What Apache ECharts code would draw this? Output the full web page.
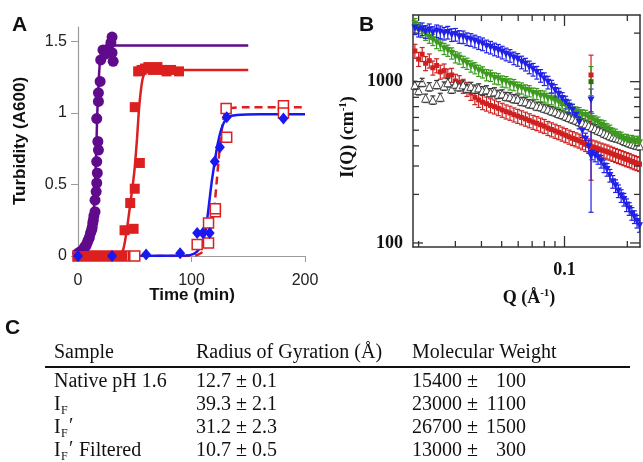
<!DOCTYPE html>
<html><head><meta charset="utf-8">
<script src="https://cdn.jsdelivr.net/npm/echarts@6/dist/echarts.min.js"></script>
<style>html,body{margin:0;padding:0;background:#fff}#c{width:643px;height:462px}</style>
</head><body><div id="c"></div>
<script>
// ---------- Panel A: turbidity (time in min, A600) ----------
const purplePoints = [[0,0.02],[1,0.01],[2,0.03],[3,0.02],[4,0.04],[5,0.05],[6,0.065],[7,0.07],[8,0.09],[9,0.11],[10,0.13],[11,0.16],[12,0.18],[12.5,0.2],[13,0.23],[13.5,0.25],[14,0.28],[15,0.31],[15,0.39],[16,0.45],[16.5,0.51],[17,0.58],[16.5,0.66],[18,0.74],[17.5,0.8],[16.5,0.96],[18,1.08],[18,1.14],[19.5,1.22],[20,1.37],[22,1.44],[24,1.41],[25,1.44],[27,1.44],[29,1.49],[30,1.53],[31,1.36],[30,1.42]];
const purpleFit = [[0,0.01],[6,0.04],[9,0.08],[11,0.13],[12.5,0.2],[13.5,0.28],[14.5,0.4],[15.5,0.6],[16.3,0.8],[17,1.0],[17.8,1.15],[18.8,1.3],[20,1.4],[22,1.45],[25,1.47],[150,1.47]];
const redPoints = [[0,0],[3,0],[6,0],[9,0],[12,0],[15,0],[18,0],[21,0],[24,0],[27,0],[30,0],[33,0],[36,0],[39,0],[41,0.18],[46,0.37],[49,0.19],[50,0.47],[54.5,0.65],[50,1.04],[53,1.29],[56,1.3],[59,1.31],[62,1.32],[66,1.3],[70,1.32],[74,1.3],[78,1.29],[82,1.3],[89,1.29]];
const redFit = [[0,0],[37,0],[40,0.05],[42,0.13],[44,0.24],[46,0.36],[48,0.48],[50,0.62],[52,0.82],[53.5,1.0],[55,1.13],[57,1.24],[60,1.29],[65,1.3],[150,1.3]];
const bluePoints = [[0,0],[30,0],[60,0.01],[90,0.02],[105,0.16],[110,0.16],[116,0.16],[120.5,0.66],[125,0.76],[131,0.97],[181,0.96]];
const blueFit = [[0,0],[95,0.003],[102,0.015],[106,0.04],[110,0.1],[112,0.16],[114,0.27],[116,0.4],[118,0.53],[120.5,0.66],[123,0.78],[126,0.88],[129,0.94],[132,0.97],[140,0.985],[160,0.99],[200,0.99]];
const openPoints = [[0,0],[10,0],[20,0],[30,0],[40,0],[50,0],[105,0.08],[115,0.09],[115,0.23],[121,0.31],[121,0.33],[131,0.83],[130.5,1.03],[181,1.05],[181,1.0]];
const openFit = [[0,0],[100,0],[106,0.01],[110,0.03],[113,0.07],[116,0.15],[118,0.24],[120,0.33],[122,0.5],[124,0.68],[126,0.84],[128,0.95],[130,1.01],[133,1.03],[145,1.04],[200,1.04]];
const timeTicks = [0, 100, 200];
const turbTicks = [0, 0.5, 1, 1.5];

// ---------- Panel B: SANS I(Q) ----------
const qValues = [0.0192,0.0200,0.0208,0.0216,0.0225,0.0234,0.0244,0.0254,0.0265,0.0276,0.0288,0.0300,0.0313,0.0327,0.0341,0.0356,0.0372,0.0388,0.0405,0.0423,0.0442,0.0462,0.0482,0.0503,0.0525,0.0548,0.0572,0.0597,0.0623,0.0650,0.0678,0.0707,0.0737,0.0768,0.0800,0.0833,0.0867,0.0902,0.0938,0.0975,0.1013,0.1052,0.1092,0.1133,0.1175,0.1218,0.1262,0.1307,0.1353,0.1400,0.1448,0.1497,0.1547,0.1598,0.1650,0.1703,0.1757,0.1812,0.1868,0.1925,0.1983,0.2042,0.2102,0.2163,0.2225,0.2288];
const blueI = [2150,2080,2120,2040,2090,2010,2060,2030,1990,2020,1950,1960,1900,1890,1840,1820,1780,1740,1710,1660,1630,1590,1560,1520,1480,1450,1400,1370,1320,1280,1230,1190,1140,1090,1040,990,935,880,835,785,745,705,665,620,560,495,440,395,360,350,338,320,300,285,262,240,226,210,196,186,172,163,152,145,136,128];
const greenI = [2280,2150,2040,1960,1880,1820,1740,1690,1600,1560,1500,1420,1395,1330,1295,1245,1215,1170,1145,1100,1090,1050,1040,1005,995,965,955,920,910,885,875,845,840,815,810,785,780,755,745,718,708,680,668,646,640,620,615,595,588,568,558,536,530,508,498,476,470,455,450,437,436,428,430,422,425,418];
const greyI = [950,880,990,790,930,770,960,800,940,985,900,965,930,955,910,935,900,915,880,890,855,865,835,840,810,805,785,780,755,750,730,725,705,700,685,675,660,650,635,625,612,600,588,578,565,556,545,535,522,512,500,492,480,472,462,455,450,446,440,432,425,418,412,408,404,400];
const redI = [1550,1380,1480,1300,1350,1220,1260,1150,1170,1090,1100,1010,990,940,900,850,800,770,745,730,712,700,684,668,652,640,625,612,600,588,575,562,552,540,530,515,505,495,485,475,465,455,446,438,430,420,410,402,395,390,384,378,373,368,362,356,350,345,340,335,330,326,320,316,312,308];
// relative error-bar half-heights
const blueErr = 0.09, greenErr = 0.08, greyErr = 0.06, redErr = 0.1;
// the anomalous point near Q = 0.134 with long error bars: [Q, I, low, high]
const redOutlier = [[0.134, 1100, 245, 1460]];
const greenOutlier = [[0.134, 1000, 820, 1240]];
const blueOutlier = [[0.134, 770, 650, 900], [0.134, 345, 155, 520]];
const qMajorTicks = [0.1];
const qMinorTicks = [0.02,0.03,0.04,0.05,0.06,0.07,0.08,0.09,0.2];
const iMajorTicks = [100, 1000];
const iMinorTicks = [200,300,400,500,600,700,800,900,2000];

// ---------- Panel C: table ----------
const tableHeader = ['Sample', 'Radius of Gyration (Å)', 'Molecular Weight'];
const tableRg = ['12.7 ± 0.1', '39.3 ± 2.1', '31.2 ± 2.3', '10.7 ± 0.5'];
const tableMwValue = ['15400 ±', '23000 ±', '26700 ±', '13000 ±'];
const tableMwErr = ['100', '1100', '1500', '300'];

const SANS = 'Liberation Sans, Arial, sans-serif';
const SERIF = 'Liberation Serif, Times New Roman, serif';
const cPurple = '#600a8c', cRed = '#dc1f1f', cBlue = '#1818f0';
const bBlue = '#2020e6', bGreen = '#3d9a1f', bRed = '#cf2020', bGrey = '#333';

function withErr(vals, rel) {
  return qValues.map((q, i) => [q, vals[i], vals[i] * (1 - rel), vals[i] * (1 + rel)]);
}
function errRender(color) {
  return function (params, api) {
    const q = api.value(0);
    const p1 = api.coord([q, api.value(3)]);
    const p2 = api.coord([q, api.value(2)]);
    const w = 2.5;
    const st = {stroke: color, lineWidth: 1.2};
    return {type: 'group', children: [
      {type: 'line', shape: {x1: p1[0], y1: p1[1], x2: p2[0], y2: p2[1]}, style: st},
      {type: 'line', shape: {x1: p1[0]-w, y1: p1[1], x2: p1[0]+w, y2: p1[1]}, style: st},
      {type: 'line', shape: {x1: p2[0]-w, y1: p2[1], x2: p2[0]+w, y2: p2[1]}, style: st}
    ]};
  };
}
function errSeries(data, color) {
  return {type: 'custom', xAxisIndex: 1, yAxisIndex: 1, data: data, renderItem: errRender(color),
    encode: {x: 0, y: 1}, silent: true, clip: true, z: 2};
}
function ptSeries(data, opts) {
  return Object.assign({type: 'scatter', xAxisIndex: 1, yAxisIndex: 1, data: data.map(d => [d[0], d[1]]), silent: true, z: 3}, opts);
}

const tickRender = function (params, api) {
  const cs = params.coordSys;
  const L = cs.x, T = cs.y, R = cs.x + cs.width, B = cs.y + cs.height;
  const ch = [];
  const st = {stroke: '#333', lineWidth: 1.3};
  const add = (x1, y1, x2, y2) => ch.push({type: 'line', shape: {x1, y1, x2, y2}, style: st});
  qMajorTicks.forEach(q => { const x = api.coord([q, 1000])[0]; add(x, B, x, B - 11); add(x, T, x, T + 11); });
  qMinorTicks.forEach(q => { const x = api.coord([q, 1000])[0]; add(x, B, x, B - 6); add(x, T, x, T + 6); });
  iMajorTicks.forEach(v => { const y = api.coord([0.1, v])[1]; add(L, y, L + 10, y); add(R, y, R - 10, y); });
  iMinorTicks.forEach(v => { const y = api.coord([0.1, v])[1]; add(L, y, L + 6, y); add(R, y, R - 6, y); });
  return {type: 'group', children: ch};
};

function txt(x, y, text, font, extra) {
  return {type: 'text', x: x, y: y, silent: true,
    style: Object.assign({text: text, font: font, fill: '#111', textAlign: 'left', textVerticalAlign: 'middle'}, extra || {})};
}

const rowY = [382, 405, 428, 451];
const colX = [54, 196, 412];
const tfont = '20px ' + SERIF;
const graphics = [
  txt(12, 25, 'A', 'bold 21px ' + SANS),
  txt(359, 25, 'B', 'bold 21px ' + SANS),
  txt(5, 328, 'C', 'bold 21px ' + SANS),
  {type: 'text', x: 20, y: 141, rotation: Math.PI / 2, silent: true,
    style: {text: 'Turbidity (A600)', font: 'bold 17px ' + SANS, fill: '#111', textAlign: 'center', textVerticalAlign: 'middle'}},
  txt(192, 295, 'Time (min)', 'bold 17px ' + SANS, {textAlign: 'center'}),
  {type: 'text', x: 348, y: 137, rotation: Math.PI / 2, silent: true,
    style: {text: '{a|I(Q) (cm}{s|-1}{a|)}', textAlign: 'center', textVerticalAlign: 'middle',
      rich: {a: {fontFamily: SERIF, fontWeight: 'bold', fontSize: 18, fill: '#111', color: '#111', lineHeight: 20},
             s: {fontFamily: SERIF, fontWeight: 'bold', fontSize: 11, fill: '#111', color: '#111', lineHeight: 20, verticalAlign: 'top'}}}},
  {type: 'text', x: 529, y: 298, silent: true,
    style: {text: '{a|Q (Å}{s|-1}{a|)}', textAlign: 'center', textVerticalAlign: 'middle',
      rich: {a: {fontFamily: SERIF, fontWeight: 'bold', fontSize: 18, fill: '#111', color: '#111', lineHeight: 20},
             s: {fontFamily: SERIF, fontWeight: 'bold', fontSize: 11, fill: '#111', color: '#111', lineHeight: 20, verticalAlign: 'top'}}}},
  // table header
  txt(colX[0], 353, tableHeader[0], tfont),
  txt(colX[1], 353, tableHeader[1], tfont),
  txt(colX[2], 353, tableHeader[2], tfont),
  {type: 'line', silent: true, shape: {x1: 45, y1: 367, x2: 630, y2: 367}, style: {stroke: '#111', lineWidth: 2}},
  // sample names
  txt(colX[0], rowY[0], 'Native pH 1.6', tfont),
  txt(colX[0], rowY[1], 'I', tfont), txt(61, rowY[1] + 6, 'F', '12px ' + SERIF),
  txt(colX[0], rowY[2], 'I', tfont), txt(61, rowY[2] + 6, 'F', '12px ' + SERIF), txt(69, rowY[2] - 1, '′', tfont),
  txt(colX[0], rowY[3], 'I', tfont), txt(61, rowY[3] + 6, 'F', '12px ' + SERIF), txt(69, rowY[3] - 1, '′', tfont),
  txt(79, rowY[3], 'Filtered', tfont)
];
rowY.forEach((y, i) => {
  graphics.push(txt(colX[1], y, tableRg[i], tfont));
  graphics.push(txt(colX[2], y, tableMwValue[i], tfont));
  graphics.push(txt(526, y, tableMwErr[i], tfont, {textAlign: 'right'}));
});

const labelFmtB = v => v >= 1 ? String(Math.round(v)) : String(+v.toPrecision(2));
const frameLine = {show: true, onZero: false, lineStyle: {color: '#333', width: 1.5}};

const option = {
  backgroundColor: '#fff',
  animation: false,
  grid: [
    {left: 78, top: 27, width: 227, height: 229},
    {left: 413, top: 15, width: 227, height: 232}
  ],
  xAxis: [
    {type: 'value', gridIndex: 0, min: 0, max: 200, interval: 100,
      axisLine: {show: true, lineStyle: {color: '#9a9a9a', width: 1.2}},
      axisTick: {show: true, length: 6, lineStyle: {color: '#9a9a9a'}, customValues: timeTicks},
      axisLabel: {fontFamily: SANS, fontSize: 16, color: '#222', margin: 17, customValues: timeTicks},
      splitLine: {show: false}},
    {type: 'log', logBase: 10, gridIndex: 1, min: 0.0188, max: 0.23,
      axisLine: frameLine, axisTick: {show: false},
      axisLabel: {fontFamily: SERIF, fontWeight: 'bold', fontSize: 18, color: '#111', margin: 14,
        showMinLabel: false, showMaxLabel: false, formatter: labelFmtB},
      splitLine: {show: false}, minorSplitLine: {show: false}},
    {type: 'log', logBase: 10, gridIndex: 1, position: 'top', min: 0.0188, max: 0.23,
      axisLine: frameLine, axisTick: {show: false}, axisLabel: {show: false}, splitLine: {show: false}}
  ],
  yAxis: [
    {type: 'value', gridIndex: 0, min: 0, max: 1.6, interval: 0.5,
      axisLine: {show: true, lineStyle: {color: '#9a9a9a', width: 1.2}},
      axisTick: {show: true, length: 7, lineStyle: {color: '#9a9a9a'}, customValues: turbTicks},
      axisLabel: {fontFamily: SANS, fontSize: 16, color: '#222', margin: 11, customValues: turbTicks},
      splitLine: {show: false}},
    {type: 'log', logBase: 10, gridIndex: 1, min: 94.4, max: 2590,
      axisLine: frameLine, axisTick: {show: false},
      axisLabel: {fontFamily: SERIF, fontWeight: 'bold', fontSize: 18, color: '#111', margin: 10,
        showMinLabel: false, showMaxLabel: false, formatter: labelFmtB},
      splitLine: {show: false}},
    {type: 'log', logBase: 10, gridIndex: 1, position: 'right', min: 94.4, max: 2590,
      axisLine: frameLine, axisTick: {show: false}, axisLabel: {show: false}, splitLine: {show: false}}
  ],
  series: [
    // Panel A
    {type: 'line', xAxisIndex: 0, yAxisIndex: 0, data: purpleFit, showSymbol: false, smooth: 0.2,
      lineStyle: {color: cPurple, width: 2.5}, z: 2, silent: true},
    {type: 'line', xAxisIndex: 0, yAxisIndex: 0, data: redFit, showSymbol: false, smooth: 0.2,
      lineStyle: {color: cRed, width: 2.5}, z: 2, silent: true},
    {type: 'line', xAxisIndex: 0, yAxisIndex: 0, data: openFit, showSymbol: false, smooth: 0.2,
      lineStyle: {color: cRed, width: 2.5, type: [8, 5]}, z: 2, silent: true},
    {type: 'line', xAxisIndex: 0, yAxisIndex: 0, data: blueFit, showSymbol: false, smooth: 0.2,
      lineStyle: {color: cBlue, width: 2.5}, z: 2, silent: true},
    {type: 'scatter', xAxisIndex: 0, yAxisIndex: 0, data: openPoints, symbol: 'rect', symbolSize: 10,
      itemStyle: {color: '#fff', borderColor: cRed, borderWidth: 1.5, opacity: 1}, z: 3, silent: true},
    {type: 'scatter', xAxisIndex: 0, yAxisIndex: 0, data: purplePoints, symbol: 'circle', symbolSize: 11,
      itemStyle: {color: cPurple, opacity: 1}, z: 4, silent: true},
    {type: 'scatter', xAxisIndex: 0, yAxisIndex: 0, data: redPoints, symbol: 'rect', symbolSize: 10,
      itemStyle: {color: cRed, opacity: 1}, z: 4, silent: true},
    {type: 'scatter', xAxisIndex: 0, yAxisIndex: 0, data: bluePoints, symbol: 'diamond', symbolSize: [10, 12],
      itemStyle: {color: cBlue, opacity: 1}, z: 4, silent: true},
    // Panel B
    errSeries(withErr(redI, redErr), bRed),
    ptSeries(withErr(redI, redErr), {symbol: 'rect', symbolSize: 5, itemStyle: {color: bRed, opacity: 1}}),
    errSeries(withErr(greyI, greyErr), bGrey),
    ptSeries(withErr(greyI, greyErr), {symbol: 'triangle', symbolSize: 8, itemStyle: {color: '#fff', borderColor: '#333', borderWidth: 0.9, opacity: 1}}),
    errSeries(withErr(greenI, greenErr), bGreen),
    ptSeries(withErr(greenI, greenErr), {symbol: 'triangle', symbolRotate: 180, symbolSize: 7, itemStyle: {color: bGreen, opacity: 1}}),
    errSeries(withErr(blueI, blueErr), bBlue),
    ptSeries(withErr(blueI, blueErr), {symbol: 'triangle', symbolRotate: 180, symbolSize: 7, itemStyle: {color: bBlue, opacity: 1}}),
    errSeries(redOutlier, bRed),
    errSeries(blueOutlier, bBlue),
    errSeries(greenOutlier, bGreen),
    ptSeries(redOutlier, {symbol: 'rect', symbolSize: 5, itemStyle: {color: bRed, opacity: 1}, z: 5}),
    ptSeries(greenOutlier, {symbol: 'rect', symbolSize: 5, itemStyle: {color: '#2d6b14', opacity: 1}, z: 5}),
    ptSeries(blueOutlier, {symbol: 'triangle', symbolRotate: 180, symbolSize: 7, itemStyle: {color: bBlue, opacity: 1}, z: 5}),
    {type: 'custom', xAxisIndex: 1, yAxisIndex: 1, data: [[0.1, 1000]], renderItem: tickRender,
      encode: {x: 0, y: 1}, silent: true, clip: false, z: 6}
  ],
  graphic: graphics
};
const chart = echarts.init(document.getElementById('c'), null, {renderer: 'canvas'});
chart.setOption(option);
</script>
</body></html>
